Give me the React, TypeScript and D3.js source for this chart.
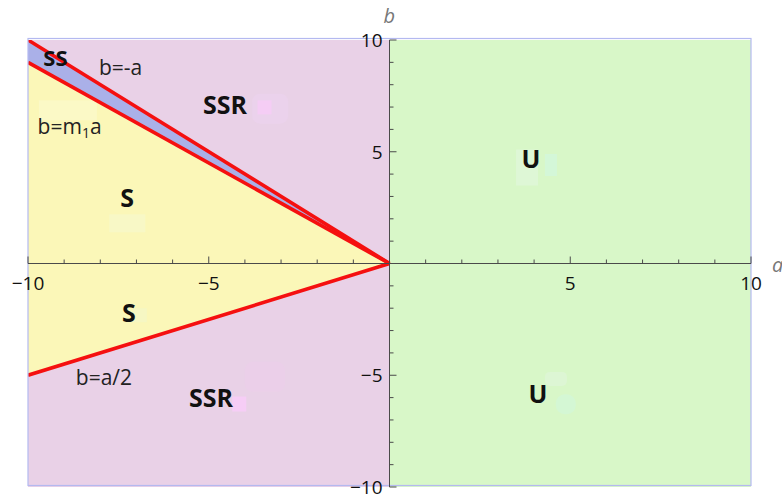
import React from "react";
import * as d3 from "d3";

// ---- data ----
const xDomain: [number, number] = [-10, 10];
const yDomain: [number, number] = [-10, 10];
const majorTicks = [-10, -5, 5, 10];
const minorTicks = [-9, -8, -7, -6, -4, -3, -2, -1, 1, 2, 3, 4, 6, 7, 8, 9];
const tickLabels = ["\u221210", "\u22125", "5", "10"];

// boundary lines b = slope * a (for a < 0)
const boundaryNames = ["b=-a", "b=m1a", "b=a/2"];
const boundarySlopes = [-1, -0.9, 0.5];

// region labels (data coordinates of the label centre / baseline)
const regionNames = ["SS", "SSR", "S", "S", "SSR", "U", "U"];
const regionA = [-9.24, -4.55, -7.26, -7.21, -4.94, 3.91, 4.11];
const regionB = [8.83, 6.68, 2.55, -2.6, -6.41, 4.26, -6.23];

// boundary labels
const lineLabelA = [-7.44, -8.85, -7.9];
const lineLabelB = [8.43, 5.78, -5.43];

const W = 782;
const H = 499;

const colors = {
  pink: "#e9d1e7",
  green: "#d8f7c8",
  yellow: "#fbf7b8",
  blue: "#aab0e8",
  red: "#f51010",
  frame: "#b4b9f0",
  axis: "#4a4a4a",
};

export default function App() {
  const x = d3.scaleLinear().domain(xDomain).range([28, 751]);
  const y = d3.scaleLinear().domain(yDomain).range([487, 40]);
  const line = d3
    .line<[number, number]>()
    .x((d) => x(d[0]))
    .y((d) => y(d[1]));

  const aMin = xDomain[0];
  const [sNeg, sM1, sHalf] = boundarySlopes;

  const greenPoly: [number, number][] = [
    [0, yDomain[0]],
    [xDomain[1], yDomain[0]],
    [xDomain[1], yDomain[1]],
    [0, yDomain[1]],
  ];
  const pinkPoly: [number, number][] = [
    [aMin, yDomain[0]],
    [0, yDomain[0]],
    [0, yDomain[1]],
    [aMin, yDomain[1]],
  ];
  const yellowPoly: [number, number][] = [
    [aMin, sHalf * aMin],
    [0, 0],
    [aMin, sM1 * aMin],
  ];
  const bluePoly: [number, number][] = [
    [aMin, sM1 * aMin],
    [0, 0],
    [aMin, sNeg * aMin],
  ];

  const x0 = x(0);
  const y0 = y(0);
  const font = "'Open Sans', 'DejaVu Sans', sans-serif";

  return (
    <svg
      width={W}
      height={H}
      style={{ position: "absolute", left: 0, top: 0, background: "#fff" }}
    >
      <defs>
        <clipPath id="plot">
          <rect x={x(xDomain[0])} y={y(yDomain[1])} width={x(xDomain[1]) - x(xDomain[0])} height={y(yDomain[0]) - y(yDomain[1])} />
        </clipPath>
      </defs>

      <g clipPath="url(#plot)">
        <path d={line(pinkPoly) + "Z"} fill={colors.pink} />
        <path d={line(greenPoly) + "Z"} fill={colors.green} />
        <path d={line(yellowPoly) + "Z"} fill={colors.yellow} />
        <path d={line(bluePoly) + "Z"} fill={colors.blue} />

        {/* faint paste artifacts behind labels */}
        <rect x={x(-9.7)} y={y(7.3)} width={58} height={20} fill="#fbf9cc" opacity={0.7} />
        <rect x={x(-7.75)} y={y(2.2)} width={36} height={18} fill="#f6f8cc" opacity={0.7} />
        <rect x={x(-7.1)} y={y(-2.0)} width={14} height={14} fill="#f4f6c8" opacity={0.7} />
        <rect x={x(-3.8)} y={y(7.6)} width={36} height={30} fill="#ebd2ec" rx={8} />
        <rect x={x(-4.0)} y={y(-4.4)} width={40} height={30} fill="#ebcfe9" rx={8} />
        <rect x={x(3.5)} y={y(5.1)} width={22} height={36} fill="#def7d6" />
        <rect x={x(4.3)} y={y(4.9)} width={12} height={22} fill="#d4f7d8" />
        <rect x={x(4.3)} y={y(-4.85)} width={22} height={14} fill="#ddf6d4" rx={5} />
        <rect x={x(4.6)} y={y(-5.85)} width={20} height={20} fill="#d4f7d4" rx={9} />
        <rect x={x(-3.65)} y={y(7.3)} width={14} height={14} fill="#f5cdf5" />
        <rect x={x(-4.35)} y={y(-5.95)} width={14} height={15} fill="#f6cdf6" />

        {boundarySlopes.map((s, i) => (
          <path
            key={boundaryNames[i]}
            d={line([
              [aMin, s * aMin],
              [0, 0],
            ]) || ""}
            stroke={colors.red}
            strokeWidth={3.6}
            fill="none"
          />
        ))}
      </g>

      {/* frame */}
      <rect
        x={x(xDomain[0])}
        y={y(yDomain[1]) - 1.5}
        width={x(xDomain[1]) - x(xDomain[0])}
        height={y(yDomain[0]) - y(yDomain[1])}
        fill="none"
        stroke={colors.frame}
        strokeWidth={1.2}
      />

      {/* axes */}
      <line x1={x(xDomain[0])} x2={x(xDomain[1])} y1={y0} y2={y0} stroke={colors.axis} strokeWidth={1} />
      <line x1={x0} x2={x0} y1={y(yDomain[1])} y2={y(yDomain[0])} stroke={colors.axis} strokeWidth={1} />

      {minorTicks.map((t) => (
        <g key={"m" + t}>
          <line x1={x(t)} x2={x(t)} y1={y0} y2={y0 - 4} stroke={colors.axis} />
          <line x1={x0} x2={x0 + 4} y1={y(t)} y2={y(t)} stroke={colors.axis} />
        </g>
      ))}
      {majorTicks.map((t, i) => (
        <g key={"M" + t}>
          <line x1={x(t)} x2={x(t)} y1={y0} y2={y0 - 7} stroke={colors.axis} />
          <line x1={x0} x2={x0 + 7} y1={y(t)} y2={y(t)} stroke={colors.axis} />
          <text x={x(t)} y={y0 + 26} textAnchor="middle" fontFamily={font} fontSize={19} fill="#111">
            {tickLabels[i]}
          </text>
          <text x={x0 - 7} y={y(t) + 7} textAnchor="end" fontFamily={font} fontSize={19} fill="#111">
            {tickLabels[i]}
          </text>
        </g>
      ))}

      {/* axis names */}
      <text x={x0 - 6} y={23} fontFamily={font} fontStyle="italic" fontSize={20} fill="#777">
        b
      </text>
      <text x={772} y={y0 + 8} fontFamily={font} fontStyle="italic" fontSize={20} fill="#777">
        a
      </text>

      {/* region labels */}
      {regionNames.map((n, i) => (
        <text
          key={"r" + i}
          x={x(regionA[i])}
          y={y(regionB[i])}
          textAnchor="middle"
          fontFamily={font}
          fontWeight="bold"
          fontSize={n === "SS" ? 22 : 25}
          fill="#111"
        >
          {n}
        </text>
      ))}

      {/* boundary labels */}
      <text x={x(lineLabelA[0])} y={y(lineLabelB[0])} textAnchor="middle" fontFamily={font} fontSize={21} fill="#222">
        b=-a
      </text>
      <text x={x(lineLabelA[1])} y={y(lineLabelB[1])} textAnchor="middle" fontFamily={font} fontSize={21} fill="#222">
        b=m<tspan fontSize={14} dy={4}>1</tspan>
        <tspan dy={-4}>a</tspan>
      </text>
      <text x={x(lineLabelA[2])} y={y(lineLabelB[2])} textAnchor="middle" fontFamily={font} fontSize={21} fill="#222">
        b=a/2
      </text>
    </svg>
  );
}
